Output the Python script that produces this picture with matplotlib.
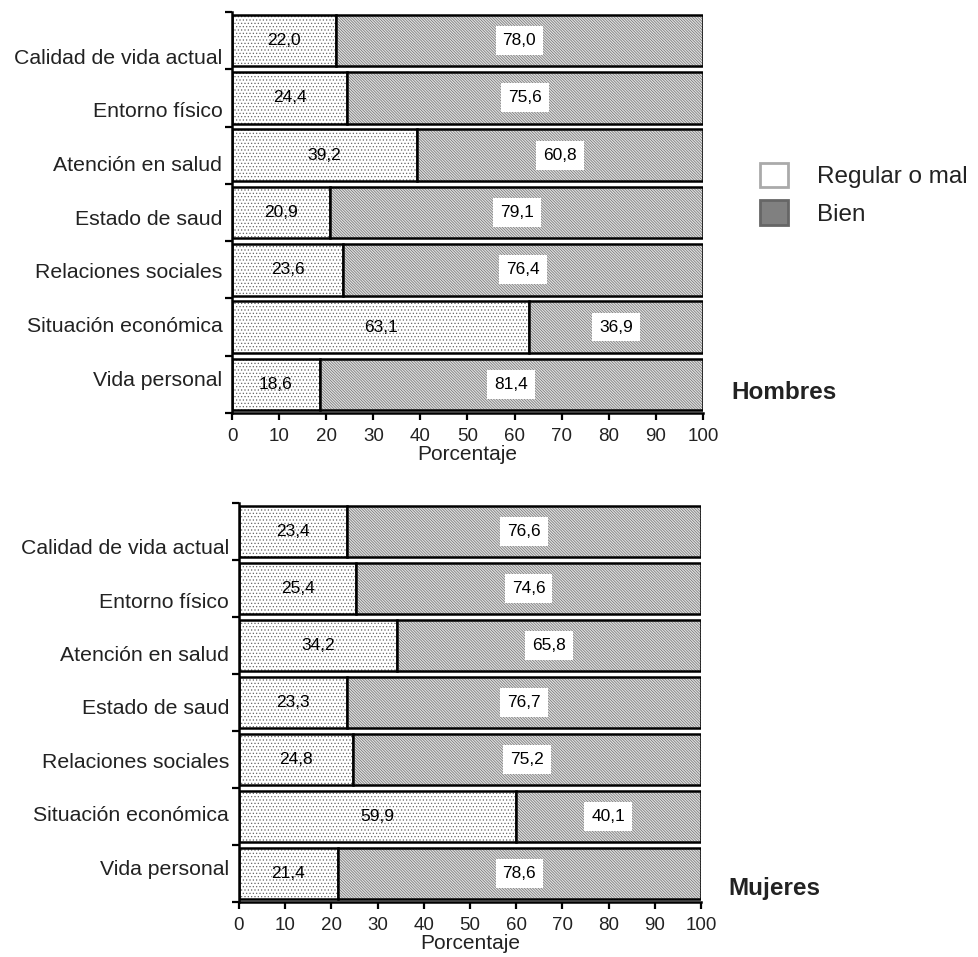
import numpy as np
import matplotlib
matplotlib.use("Agg")
import matplotlib.pyplot as plt
from matplotlib.patches import Patch

plt.rcParams['font.family'] = ['Liberation Sans', 'DejaVu Sans']
plt.rcParams['hatch.linewidth'] = 0.5

categorias = ["Calidad de vida actual", "Entorno físico", "Atención en salud",
              "Estado de saud", "Relaciones sociales", "Situación económica",
              "Vida personal"]
hombres_regular = [22.0, 24.4, 39.2, 20.9, 23.6, 63.1, 18.6]
hombres_bien = [78.0, 75.6, 60.8, 79.1, 76.4, 36.9, 81.4]
mujeres_regular = [23.4, 25.4, 34.2, 23.3, 24.8, 59.9, 21.4]
mujeres_bien = [76.6, 74.6, 65.8, 76.7, 75.2, 40.1, 78.6]
xticks = list(range(0, 101, 10))

TXT = '#222222'


def fmt(v):
    return f"{v:.1f}".replace('.', ',')


def panel(ax, regular, bien, nombre, ynombre):
    y = np.arange(len(categorias))
    h = 0.9
    # relleno punteado (regular o mal)
    ax.barh(y, regular, height=h, color='white', edgecolor='#666666',
            hatch='.....', lw=0)
    ax.barh(y, regular, height=h, fill=False, edgecolor='black', lw=1.8)
    # relleno rayado (bien)
    ax.barh(y, bien, left=regular, height=h, color='#e0e0e0',
            edgecolor='#707070', hatch='\\' * 12, lw=0)
    ax.barh(y, bien, left=regular, height=h, fill=False, edgecolor='black', lw=1.8)

    for yi, r, b in zip(y, regular, bien):
        ax.text(r / 2, yi, fmt(r), ha='center', va='center', fontsize=12.5, color='black')
        ax.text(r + b / 2, yi, fmt(b), ha='center', va='center', fontsize=12.5,
                color='black',
                bbox=dict(boxstyle='square,pad=0.4', fc='white', ec='none'))

    ax.set_xlim(0, 100)
    ax.set_ylim(len(categorias) - 0.5, -0.5)
    ax.set_xticks(xticks)
    ax.set_xticklabels([str(t) for t in xticks], fontsize=13.5, color=TXT)
    ax.set_yticks(np.linspace(0.27, 5.89, len(categorias)))
    ax.set_yticklabels(categorias, fontsize=15.3, color=TXT)
    ax.set_yticks(np.arange(-0.5, len(categorias)), minor=True)
    ax.tick_params(axis='y', which='major', length=0, pad=7)
    ax.tick_params(axis='y', which='minor', length=5, width=1.6, direction='out')
    ax.tick_params(axis='x', length=5, width=1.6, direction='out', pad=6)
    ax.set_xlabel("Porcentaje", fontsize=15, color=TXT, labelpad=0)
    for s in ['top', 'right']:
        ax.spines[s].set_visible(False)
    for s in ['left', 'bottom']:
        ax.spines[s].set_linewidth(1.8)
    ax.text(1.06, ynombre, nombre, transform=ax.transAxes, fontsize=17.5,
            fontweight='bold', color=TXT, ha='left', va='center')


fig = plt.figure(figsize=(9.79, 9.57), dpi=100)
ax1 = fig.add_axes([0.237, 0.5685, 0.481, 0.419])
ax2 = fig.add_axes([0.244, 0.0575, 0.472, 0.417])
panel(ax1, hombres_regular, hombres_bien, "Hombres", 0.05)
panel(ax2, mujeres_regular, mujeres_bien, "Mujeres", 0.035)

handles = [Patch(facecolor='white', edgecolor='#aaaaaa', lw=2),
           Patch(facecolor='#808080', edgecolor='#666666', lw=2)]
fig.legend(handles, ["Regular o mal", "Bien"], loc='upper left',
           bbox_to_anchor=(0.776, 1 - 163 / 957), frameon=False,
           fontsize=17.5, handlelength=1.15, handleheight=1.15,
           handletextpad=1.2, labelspacing=0.5, borderpad=0, borderaxespad=0,
           labelcolor=TXT)

fig.savefig("out.png", dpi=100)
